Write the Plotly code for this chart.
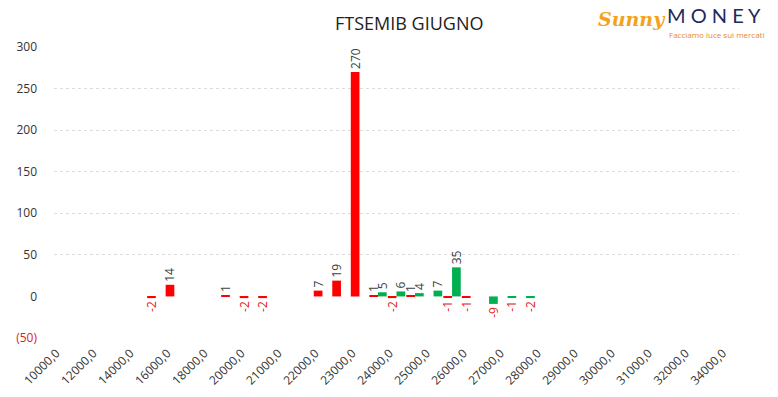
import plotly.graph_objects as go

strikes = [10000, 11000, 12000, 13000, 14000, 15000, 16000, 17000, 18000, 19000,
           20000, 20500, 21000, 21500, 22000, 22500, 23000, 23500, 24000, 24500,
           25000, 25500, 26000, 26500, 27000, 27500, 28000, 28500, 29000, 29500,
           30000, 30500, 31000, 31500, 32000, 33000, 34000]
categories = [f"{s},0" for s in strikes]

# red series (left bar in each group)
red_vals = {15000: -2, 16000: 14, 19000: 1, 20000: -2, 20500: -2, 22000: 7,
            22500: 19, 23000: 270, 23500: 1, 24000: -2, 24500: 1, 25500: -1,
            26000: -1}
# green series (right bar in each group)
green_vals = {23500: 5, 24000: 6, 24500: 4, 25000: 7, 25500: 35, 26500: -9,
              27000: -1, 27500: -2}

red_y = [red_vals.get(s) for s in strikes]
green_y = [green_vals.get(s) for s in strikes]

y_ticks = [-50, 0, 50, 100, 150, 200, 250, 300]
y_ticktext = ['<span style="color:#E0201B">(50)</span>', "0", "50", "100", "150", "200", "250", "300"]
grid_vals = [50, 100, 150, 200, 250]


def labels(vals):
    return ["" if v is None else str(v) for v in vals]


def label_colors(vals):
    return ["#E0201B" if (v is not None and v < 0) else "#404040" for v in vals]


fig = go.Figure()
for vals, color in [(red_y, "#FF0000"), (green_y, "#00B050")]:
    fig.add_trace(go.Bar(
        x=categories, y=vals, marker=dict(color=color, line=dict(width=0)),
        text=labels(vals), textposition="outside", textangle=-90,
        constraintext="none", cliponaxis=False,
        textfont=dict(family="Open Sans", size=12, color=label_colors(vals)),
        showlegend=False,
    ))

fig.update_layout(
    width=778, height=397,
    margin=dict(l=54, r=39, t=47, b=59, autoexpand=False),
    paper_bgcolor="white", plot_bgcolor="white",
    barmode="group", bargap=0.06, bargroupgap=0,
    font=dict(family="Open Sans", size=12, color="#404040"),
    title=dict(text="FTSEMIB GIUGNO", xref="container", yref="container",
               x=0.526, y=1 - 24 / 397, xanchor="center", yanchor="middle",
               font=dict(family="Open Sans", size=18, color="#222222")),
    xaxis=dict(type="category", categoryorder="array", categoryarray=categories,
               tickmode="array", tickvals=categories[::2], ticktext=categories[::2],
               tickangle=-45, showgrid=False, zeroline=False, showline=False,
               ticks="", ticklabelshift=-7, ticklabelstandoff=5, automargin=False,
               tickfont=dict(size=12, color="#333333")),
    yaxis=dict(range=[-50, 300], tickmode="array", tickvals=y_ticks,
               ticktext=y_ticktext, showgrid=False, zeroline=False,
               showline=False, ticks="", ticklabelstandoff=16, automargin=False,
               tickfont=dict(size=12, color="#333333"),
               minor=dict(tickmode="array", tickvals=grid_vals, showgrid=True,
                          gridcolor="#DDDDDD", griddash="dot", gridwidth=1, ticks="")),
)

# logo approximation as text
fig.add_annotation(xref="paper", yref="paper", x=(596 - 54) / 685, y=(338 - 19) / 291,
                   xanchor="left", yanchor="middle", showarrow=False,
                   text="<b><i>Sunny</i></b>",
                   font=dict(family="DejaVu Serif", size=19, color="#F5A21B"))
fig.add_annotation(xref="paper", yref="paper", x=(665 - 54) / 685, y=(338 - 1) / 291,
                   xanchor="left", yanchor="top", showarrow=False,
                   text="M O N E Y",
                   font=dict(family="Lato", size=20, color="#1F2A5C"))
fig.add_annotation(xref="paper", yref="paper", x=(667 - 54) / 685, y=(338 - 27) / 291,
                   xanchor="left", yanchor="top", showarrow=False,
                   text="Facciamo luce sui mercati",
                   font=dict(family="Open Sans", size=8, color="#E8891E"))

fig.write_html("out.html")
